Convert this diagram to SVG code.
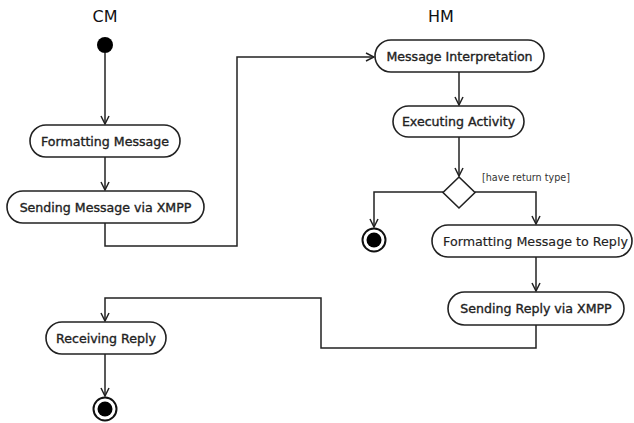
<svg xmlns="http://www.w3.org/2000/svg" width="634" height="423" viewBox="0 0 634 423">
<defs>
<marker id="arr" viewBox="0 0 10 10" refX="9" refY="5" markerWidth="10" markerHeight="10" markerUnits="userSpaceOnUse" orient="auto">
<path d="M1,1 L9,5 L1,9" fill="none" stroke="#222" stroke-width="1.5"/>
</marker>
</defs>
<style>
.act{fill:#fff;stroke:#222;stroke-width:1.6}
.lbl{font-family:"DejaVu Sans",sans-serif;font-size:12.6px;fill:#222;stroke:#222;stroke-width:0.35;text-anchor:middle}
.lbln{font-family:"DejaVu Sans",sans-serif;font-size:12.7px;fill:#222;stroke:#222;stroke-width:0.15;text-anchor:middle}
.lane{font-family:"DejaVu Sans",sans-serif;font-size:16px;fill:#111;text-anchor:middle}
.guard{font-family:"DejaVu Sans",sans-serif;font-size:9.6px;fill:#333}
.con{fill:none;stroke:#222;stroke-width:1.5}
</style>
<rect width="634" height="423" fill="#fff"/>
<text class="lane" x="105" y="22">CM</text>
<text class="lane" x="441" y="22">HM</text>
<g id="connectors">
<path class="con" d="M105,53 V124" marker-end="url(#arr)"/>
<path class="con" d="M105,157 V190" marker-end="url(#arr)"/>
<path class="con" d="M105,223 V246 H237 V57 H374" marker-end="url(#arr)"/>
<path class="con" d="M459,72 V105" marker-end="url(#arr)"/>
<path class="con" d="M459,137 V176" marker-end="url(#arr)"/>
<path class="con" d="M443,192 H374 V227" marker-end="url(#arr)"/>
<path class="con" d="M475,192 H536 V224" marker-end="url(#arr)"/>
<path class="con" d="M536,257 V291" marker-end="url(#arr)"/>
<path class="con" d="M536,325 V348 H321 V298 H105 V321" marker-end="url(#arr)"/>
<path class="con" d="M105,354 V396" marker-end="url(#arr)"/>
<text class="guard" x="482" y="181">[have return type]</text>
</g>
<g id="start"><circle cx="105" cy="45" r="8" fill="#000"/></g>
<g id="formatting-message"><rect class="act" x="30" y="125" width="150" height="32" rx="16"/><text class="lbl" x="105" y="145.5">Formatting Message</text></g>
<g id="sending-message"><rect class="act" x="7" y="191" width="197" height="32" rx="16"/><text class="lbl" x="105.5" y="211.5">Sending Message via XMPP</text></g>
<g id="message-interpretation"><rect class="act" x="375" y="40" width="169" height="32" rx="16"/><text class="lbl" x="459.5" y="60.5">Message Interpretation</text></g>
<g id="executing-activity"><rect class="act" x="393" y="106" width="131" height="31" rx="15.5"/><text class="lbl" x="458.5" y="126">Executing Activity</text></g>
<g id="decision"><path class="act" d="M459,177 L475,192.5 L459,208 L443,192.5 Z"/></g>
<g id="final-hm"><circle cx="374" cy="240" r="11.5" fill="#fff" stroke="#111" stroke-width="2"/><circle cx="374" cy="240" r="7.5" fill="#000"/></g>
<g id="formatting-reply"><rect class="act" x="432" y="225" width="200" height="32" rx="16"/><text class="lbln" x="535.5" y="245.5">Formatting Message to Reply</text></g>
<g id="sending-reply"><rect class="act" x="448" y="292" width="176" height="33" rx="16.5"/><text class="lbl" x="536" y="313">Sending Reply via XMPP</text></g>
<g id="receiving-reply"><rect class="act" x="46" y="322" width="120" height="32" rx="16"/><text class="lbl" x="106" y="342.5">Receiving Reply</text></g>
<g id="final-cm"><circle cx="105" cy="409" r="11.5" fill="#fff" stroke="#111" stroke-width="2"/><circle cx="105" cy="409" r="7.5" fill="#000"/></g>
</svg>
